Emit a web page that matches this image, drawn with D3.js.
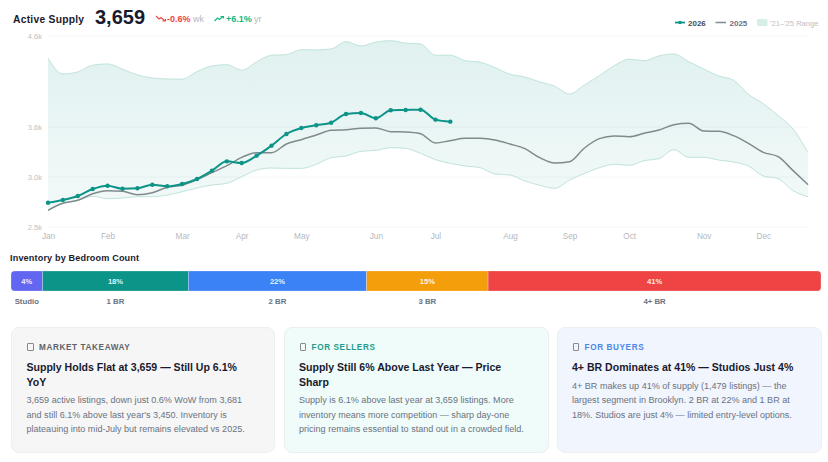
<!DOCTYPE html>
<html>
<head>
<meta charset="utf-8">
<script src="https://cdn.jsdelivr.net/npm/d3@7"></script>
<style>
  html, body { margin: 0; padding: 0; background: #fff; }
  body { width: 828px; height: 462px; overflow: hidden; position: relative; font-family: "Liberation Sans", Arial, sans-serif; }
  svg { position: absolute; left: 0; top: 0; }
  .card { position: absolute; top: 327px; height: 125.5px; box-sizing: border-box; border-radius: 8px; border: 1px solid #eceef0; padding: 0 14.5px; }
  .card .tag { position: absolute; top: 14px; left: 14.5px; font-size: 8.2px; font-weight: 700; letter-spacing: 0.6px; line-height: 12px; white-space: nowrap; }
  .card .tag i { display: inline-block; width: 4.6px; height: 5.6px; border: 1px solid #888; border-radius: 1px; margin: 0 5.4px 0 0.6px; vertical-align: -0.5px; }
  .card h3 { margin: 32px 0 0 0; padding-right: 6px; font-size: 10.55px; line-height: 14.6px; font-weight: 700; color: #1a1a2e; }
  .card p { margin: 4px 0 0 0; font-size: 9.05px; line-height: 14.6px; color: #6b7280; }
</style>
</head>
<body>
<script>
// weekly values, Jan to Dec
const weeks = d3.range(52);
const values2026 = [2743, 2770, 2810, 2880, 2913, 2883, 2887, 2923, 2907, 2930, 2980, 3076, 3188, 3168, 3256, 3376, 3516, 3588, 3619, 3647, 3743, 3754, 3696, 3784, 3787, 3790, 3681, 3659];
const values2025 = [2667, 2737, 2767, 2833, 2863, 2857, 2823, 2843, 2897, 2917, 2973, 3052, 3136, 3236, 3292, 3292, 3396, 3448, 3504, 3560, 3568, 3584, 3588, 3544, 3540, 3520, 3408, 3436, 3464, 3464, 3444, 3396, 3340, 3232, 3168, 3184, 3348, 3460, 3492, 3484, 3524, 3564, 3625, 3641, 3552, 3548, 3496, 3404, 3296, 3244, 3076, 2923];
const rangeHigh = [4356, 4183, 4205, 4279, 4293, 4235, 4172, 4139, 4128, 4125, 4208, 4271, 4285, 4224, 4315, 4389, 4395, 4450, 4447, 4458, 4538, 4491, 4532, 4549, 4521, 4513, 4389, 4389, 4329, 4312, 4252, 4180, 4150, 4095, 4048, 3963, 4062, 4164, 4274, 4345, 4329, 4381, 4403, 4318, 4238, 4161, 4114, 3960, 3856, 3724, 3576, 3292];
const rangeLow = [2667, 2737, 2767, 2807, 2783, 2790, 2803, 2803, 2820, 2853, 2890, 2920, 2937, 3004, 3084, 3108, 3104, 3104, 3152, 3232, 3252, 3308, 3320, 3352, 3344, 3284, 3208, 3164, 3132, 3112, 3036, 3024, 2960, 2917, 2887, 2970, 3044, 3112, 3152, 3140, 3196, 3220, 3328, 3236, 3236, 3204, 3180, 3132, 3012, 2983, 2863, 2803];

const monthNames = ["Jan", "Feb", "Mar", "Apr", "May", "Jun", "Jul", "Aug", "Sep", "Oct", "Nov", "Dec"];
const monthWeeks = [0, 4, 9, 13, 17, 22, 26, 31, 35, 39, 44, 48];
const yTicks = [2500, 3000, 3600, 4600];

const bedrooms = ["Studio", "1 BR", "2 BR", "3 BR", "4+ BR"];
const shares = [3.9, 18, 22, 15, 41.1];
const barColors = ["#6366f1", "#0d9488", "#3b82f6", "#f59e0b", "#ef4444"];

const cardTags = ["MARKET TAKEAWAY", "FOR SELLERS", "FOR BUYERS"];
const cardTitles = [
  "Supply Holds Flat at 3,659 — Still Up 6.1% YoY",
  "Supply Still 6% Above Last Year — Price Sharp",
  "4+ BR Dominates at 41% — Studios Just 4%"
];
const cardTexts = [
  "3,659 active listings, down just 0.6% WoW from 3,681 and still 6.1% above last year's 3,450. Inventory is plateauing into mid-July but remains elevated vs 2025.",
  "Supply is 6.1% above last year at 3,659 listings. More inventory means more competition — sharp day-one pricing remains essential to stand out in a crowded field.",
  "4+ BR makes up 41% of supply (1,479 listings) — the largest segment in Brooklyn. 2 BR at 22% and 1 BR at 18%. Studios are just 4% — limited entry-level options."
];
const cardLefts = [11, 283.5, 556.5];
const cardWidths = [264, 265, 265];
const cardBg = ["#f6f6f7", "#effcfa", "#f1f5fe"];
const cardTagColors = ["#5f6368", "#1f9d8c", "#4a86e8"];

const svg = d3.select("body").append("svg").attr("width", 828).attr("height", 462);
const font = "'Liberation Sans', Arial, sans-serif";

const x = d3.scaleLinear().domain([0, 51]).range([48, 808]);
// y axis is not evenly spaced in the original
const y = d3.scaleLinear().domain(yTicks).range([227, 177, 127, 36]);

const defs = svg.append("defs");
const grad = defs.append("linearGradient").attr("id", "bandFill").attr("x1", 0).attr("x2", 0).attr("y1", 0).attr("y2", 1);
grad.append("stop").attr("offset", "0%").attr("stop-color", "#0d9488").attr("stop-opacity", 0.13);
grad.append("stop").attr("offset", "100%").attr("stop-color", "#0d9488").attr("stop-opacity", 0.05);

// grid
svg.append("g").selectAll("line").data(yTicks).join("line")
  .attr("x1", 48).attr("x2", 808)
  .attr("y1", d => y(d)).attr("y2", d => y(d))
  .attr("stroke", "#f5f6f7").attr("stroke-width", 1);

// y axis labels
const yAxis = svg.append("g").attr("transform", "translate(43,0)")
  .call(d3.axisLeft(y).tickValues(yTicks).tickSize(0).tickFormat(d => (d / 1000).toFixed(1) + "k"));
yAxis.select(".domain").remove();
yAxis.selectAll("text").attr("font-family", font).attr("font-size", 7.5).attr("fill", "#bcc0c5").attr("x", -1);

// x axis labels
const xAxis = svg.append("g").attr("transform", "translate(0,231)")
  .call(d3.axisBottom(x).tickValues(monthWeeks).tickSize(0).tickFormat((d, i) => monthNames[i]));
xAxis.select(".domain").remove();
xAxis.selectAll("text").attr("font-family", font).attr("font-size", 8.2).attr("fill", "#b4b8be").attr("dy", "0.71em").attr("y", 2);

// historic range band
const area = d3.area().x(d => x(d)).y0(d => y(rangeLow[d])).y1(d => y(rangeHigh[d])).curve(d3.curveMonotoneX);
svg.append("path").datum(weeks).attr("d", area).attr("fill", "url(#bandFill)");

const edge = arr => d3.line().x(d => x(d)).y(d => y(arr[d])).curve(d3.curveMonotoneX);
[rangeHigh, rangeLow].forEach(arr => {
  svg.append("path").datum(weeks).attr("d", edge(arr))
    .attr("fill", "none").attr("stroke", "#bfe3db").attr("stroke-width", 1);
});

// 2025
svg.append("path").datum(weeks).attr("d", edge(values2025))
  .attr("fill", "none").attr("stroke", "#808a8c").attr("stroke-width", 1.5);

// 2026
const weeks2026 = d3.range(values2026.length);
svg.append("path").datum(weeks2026).attr("d", edge(values2026))
  .attr("fill", "none").attr("stroke", "#0d9488").attr("stroke-width", 2);
svg.append("g").selectAll("circle").data(weeks2026).join("circle")
  .attr("cx", d => x(d)).attr("cy", d => y(values2026[d])).attr("r", 2.2).attr("fill", "#0d9488");

// header
const text = (t, px, py, size, color, weight) => svg.append("text")
  .attr("x", px).attr("y", py).attr("font-family", font).attr("font-size", size)
  .attr("fill", color).attr("font-weight", weight || 400).text(t);

text("Active Supply", 13, 23, 10.3, "#1a1a2e", 700).attr("letter-spacing", 0.25);
text("3,659", 95, 24, 20, "#1a1a2e", 700);
text("-0.6%", 167, 22, 9, "#ef4444", 700);
text("wk", 193, 22, 9, "#b4b8be");
text("+6.1%", 226, 22, 9, "#10b981", 700);
text("yr", 254, 22, 9, "#b4b8be");

const trendDown = svg.append("g").attr("transform", "translate(156,16)");
trendDown.append("path").attr("d", "M0,0 L3,3 L5,1.5 L9,5 M6.5,5 L9.5,5 L9.5,3")
  .attr("fill", "none").attr("stroke", "#ef4444").attr("stroke-width", 1.1);
const trendUp = svg.append("g").attr("transform", "translate(214.5,16)");
trendUp.append("path").attr("d", "M0,5 L3,2 L5,3.5 L8.5,0.5 M6,0.5 L9,0.5 L9,2.5")
  .attr("fill", "none").attr("stroke", "#10b981").attr("stroke-width", 1.1);

// legend
svg.append("line").attr("x1", 675).attr("x2", 685).attr("y1", 22.5).attr("y2", 22.5).attr("stroke", "#0d9488").attr("stroke-width", 1.8);
svg.append("circle").attr("cx", 680).attr("cy", 22.5).attr("r", 1.8).attr("fill", "#0d9488");
text("2026", 688, 26, 8, "#444b55", 700);
svg.append("line").attr("x1", 715.5).attr("x2", 726).attr("y1", 22.5).attr("y2", 22.5).attr("stroke", "#808a8c").attr("stroke-width", 1.5);
text("2025", 729.5, 26, 8, "#6b7280", 700);
svg.append("rect").attr("x", 757).attr("y", 19).attr("width", 10.5).attr("height", 7).attr("rx", 1).attr("fill", "#d8eee9");
text("'21–'25 Range", 770, 26, 7.6, "#bcc0c5");

// bedroom bar
text("Inventory by Bedroom Count", 10, 261, 9.1, "#1a1a2e", 700).attr("letter-spacing", 0.15);

const cum = d3.cumsum([0].concat(shares));
const bx = d3.scaleLinear().domain([0, 100.0]).range([11, 821]);

defs.append("clipPath").attr("id", "barClip").append("rect")
  .attr("x", 11).attr("y", 271).attr("width", 810).attr("height", 20).attr("rx", 4);

svg.append("g").attr("clip-path", "url(#barClip)").selectAll("rect").data(shares).join("rect")
  .attr("x", (d, i) => bx(cum[i]))
  .attr("width", d => bx(d) - bx(0))
  .attr("y", 271).attr("height", 20)
  .attr("fill", (d, i) => barColors[i])
  .attr("stroke", "#fff").attr("stroke-opacity", 0.35).attr("stroke-width", 0.7);

svg.append("g").selectAll("text").data(shares).join("text")
  .attr("x", (d, i) => bx(cum[i] + d / 2)).attr("y", 284.3)
  .attr("text-anchor", "middle").attr("font-family", font).attr("font-size", 7.6)
  .attr("font-weight", 700).attr("fill", "#fff").attr("fill-opacity", 0.9)
  .text(d => Math.round(d) + "%");

svg.append("g").selectAll("text").data(bedrooms).join("text")
  .attr("x", (d, i) => bx(cum[i] + shares[i] / 2)).attr("y", 304)
  .attr("text-anchor", "middle").attr("font-family", font).attr("font-size", 7.8)
  .attr("font-weight", 700).attr("fill", "#6b7280")
  .text(d => d);

// cards
const cards = d3.select("body").selectAll("div.card").data(cardTags).join("div")
  .attr("class", "card")
  .style("left", (d, i) => cardLefts[i] + "px")
  .style("width", (d, i) => cardWidths[i] + "px")
  .style("background", (d, i) => cardBg[i]);

const tags = cards.append("div").attr("class", "tag").style("color", (d, i) => cardTagColors[i]);
tags.append("i");
tags.append("span").text(d => d);
cards.append("h3").text((d, i) => cardTitles[i]);
cards.append("p").text((d, i) => cardTexts[i]);
</script>
</body>
</html>
